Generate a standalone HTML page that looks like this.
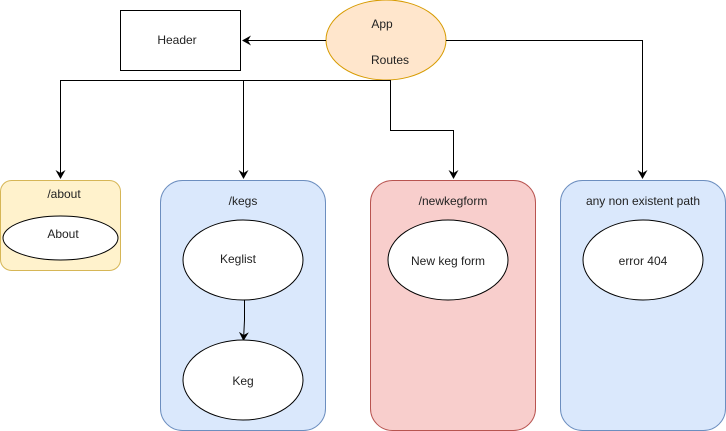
<!DOCTYPE html>
<html><head><style>body{margin:0;background:#fff}svg{display:block}text{font-family:"Liberation Sans",sans-serif;font-size:12px;fill:#222}</style></head><body>
<svg width="726" height="431" viewBox="0 0 726 431" xmlns="http://www.w3.org/2000/svg">
<defs><marker id="a" markerWidth="10" markerHeight="10" refX="8" refY="5" orient="auto" markerUnits="userSpaceOnUse"><path d="M0,0 L9,5 L0,10 L3,5 Z" fill="#000"/></marker></defs>
<rect x="0.5" y="180.5" width="120" height="90" rx="11" fill="#fff2cc" stroke="#d6b656"/>
<rect x="160.5" y="180.5" width="165" height="250" rx="22" fill="#dae8fc" stroke="#6c8ebf"/>
<rect x="370.5" y="180.5" width="165" height="250" rx="22" fill="#f8cecc" stroke="#b85450"/>
<rect x="560.5" y="180.5" width="165" height="250" rx="22" fill="#dae8fc" stroke="#6c8ebf"/>
<rect x="120.5" y="10.5" width="120" height="60" fill="#fff" stroke="#000"/>
<ellipse cx="386" cy="40" rx="60" ry="40" fill="#ffe6cc" stroke="#d79b00"/>
<g fill="none" stroke="#000" stroke-width="1">
<path d="M326,40.5 H243" marker-end="url(#a)"/>
<path d="M446,40.5 H642.5 V178" marker-end="url(#a)"/>
<path d="M390.5,80 V80.5 H60.5 V178" marker-end="url(#a)"/>
<path d="M243.5,80.5 V178" marker-end="url(#a)"/>
<path d="M390.5,80 V130.5 H453.5 V178" marker-end="url(#a)"/>
<path d="M244.5,300 V320 L243.5,340" marker-end="url(#a)"/>
</g>
<ellipse cx="60.5" cy="238" rx="57.5" ry="22" fill="#fff" stroke="#000"/>
<ellipse cx="243" cy="260" rx="60" ry="40" fill="#fff" stroke="#000"/>
<ellipse cx="243" cy="380" rx="60" ry="40" fill="#fff" stroke="#000"/>
<ellipse cx="448" cy="260" rx="60" ry="40" fill="#fff" stroke="#000"/>
<ellipse cx="643" cy="260" rx="60" ry="40" fill="#fff" stroke="#000"/>
<g text-anchor="middle">
<text x="177" y="44">Header</text>
<text x="382" y="28">App</text>
<text x="390" y="64">Routes</text>
<text x="64" y="198">/about</text>
<text x="63" y="238">About</text>
<text x="243" y="205">/kegs</text>
<text x="238" y="263">Keglist</text>
<text x="243" y="385">Keg</text>
<text x="453" y="205">/newkegform</text>
<text x="448" y="265">New keg form</text>
<text x="643" y="205">any non existent path</text>
<text x="643" y="265">error 404</text>
</g>
</svg>
</body></html>
